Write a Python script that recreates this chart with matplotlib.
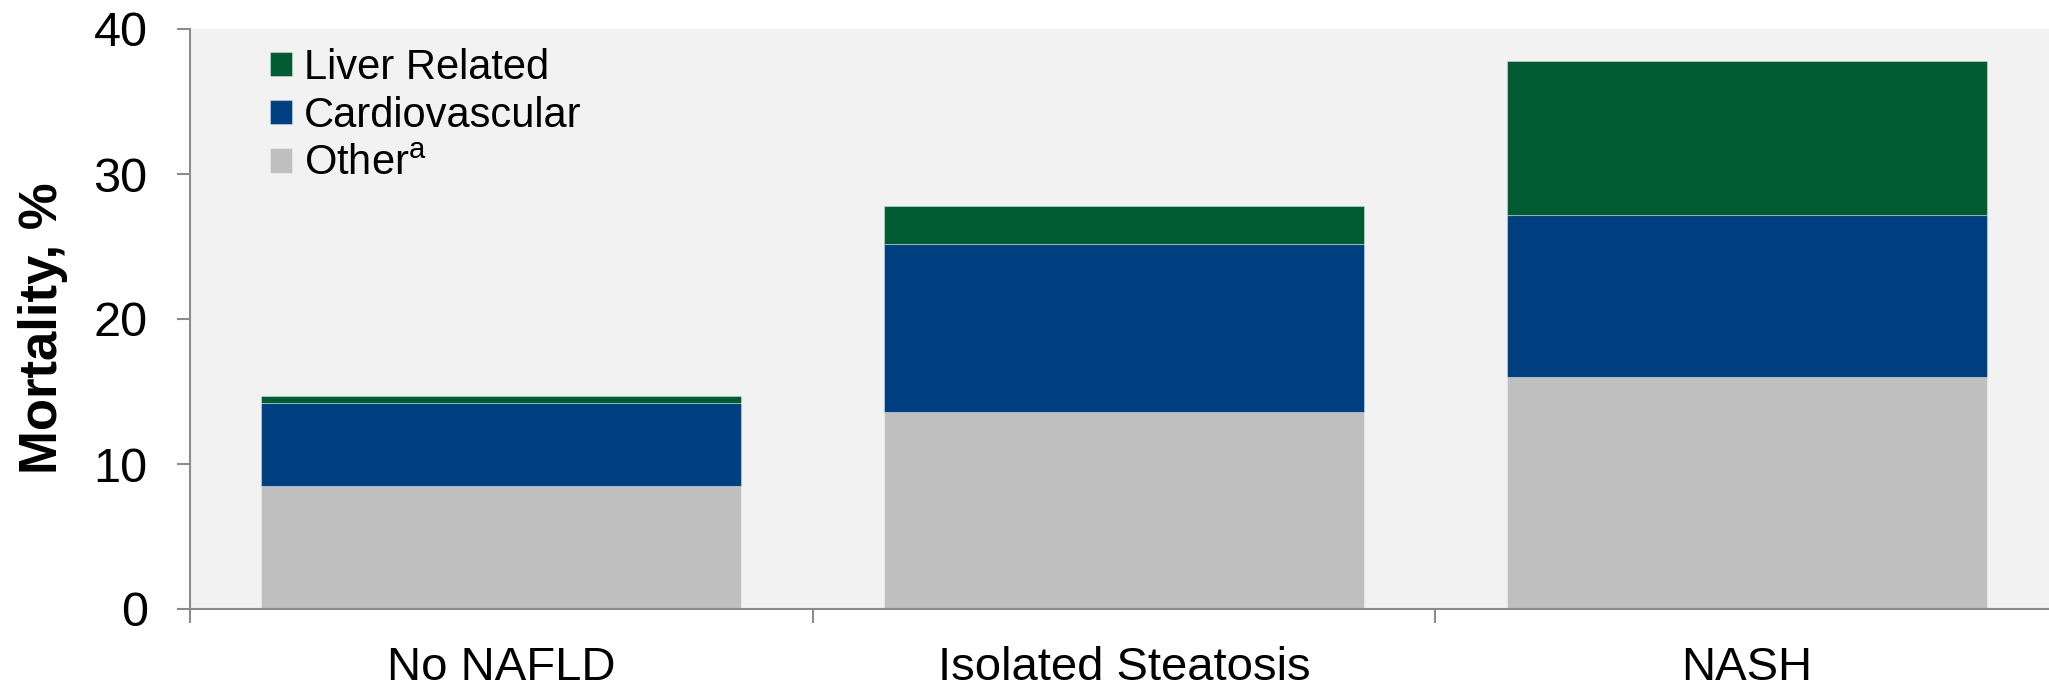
import matplotlib
matplotlib.use("Agg")
import matplotlib.pyplot as plt
import numpy as np

plt.rcParams['font.family'] = ['Liberation Sans', 'DejaVu Sans']
plt.rcParams['mathtext.fontset'] = 'custom'
plt.rcParams['mathtext.rm'] = 'Liberation Sans'

# mortality by cause, %
groups = ['No NAFLD', 'Isolated Steatosis', 'NASH']
other = [8.5, 13.6, 16.0]
cardiovascular = [5.7, 11.6, 11.2]
liver_related = [0.5, 2.6, 10.6]

c_liver = '#005A32'
c_cardio = '#003F7F'
c_other = '#BFBFBF'
axis_gray = '#8C8C8C'

fig = plt.figure(figsize=(20.49, 6.87), dpi=100)
# plot area runs a little past the right edge of the figure
ax = fig.add_axes([190 / 2049, 78 / 687, 1868 / 2049, 580 / 687])
ax.set_facecolor('#F2F2F2')

x = np.arange(len(groups))
w = 0.771
edge = (1, 1, 1, 0.35)
b_other = ax.bar(x, other, w, color=c_other, edgecolor=edge, linewidth=0.8)
b_cardio = ax.bar(x, cardiovascular, w, bottom=other, color=c_cardio,
                  edgecolor=edge, linewidth=0.8)
bottom2 = np.array(other) + np.array(cardiovascular)
b_liver = ax.bar(x, liver_related, w, bottom=bottom2, color=c_liver,
                 edgecolor=edge, linewidth=0.8)

ax.set_xlim(-0.5, len(groups) - 0.5)
ax.set_ylim(0, 40)
ax.set_yticks([0, 10, 20, 30, 40])

# category labels centred, tick marks between categories
ax.set_xticks(x)
ax.set_xticklabels(groups, fontsize=34)
ax.set_xticks(np.arange(-0.5, len(groups)), minor=True)
ax.tick_params(axis='x', which='major', length=0, pad=27)
ax.tick_params(axis='x', which='minor', length=10, width=1.5, color=axis_gray)
ax.tick_params(axis='y', length=9.5, width=1.5, color=axis_gray,
               labelsize=35, pad=21)

for s in ['top', 'right']:
    ax.spines[s].set_visible(False)
for s in ['left', 'bottom']:
    ax.spines[s].set_color(axis_gray)
    ax.spines[s].set_linewidth(1.5)

ax.set_ylabel('Mortality, %', fontsize=38, fontweight='bold', va='center')
ax.yaxis.set_label_coords(-0.0785, 0.484)

ax.legend([b_liver, b_cardio, b_other],
          ['Liver Related', 'Cardiovascular', r'Other$^{\mathrm{a}}$'],
          loc='upper left', bbox_to_anchor=(0.043, 0.968), frameon=False,
          fontsize=30, handlelength=0.53, handleheight=0.53,
          handletextpad=0.27, labelspacing=0.2, borderpad=0,
          borderaxespad=0)

fig.savefig('out.png', dpi=100)
